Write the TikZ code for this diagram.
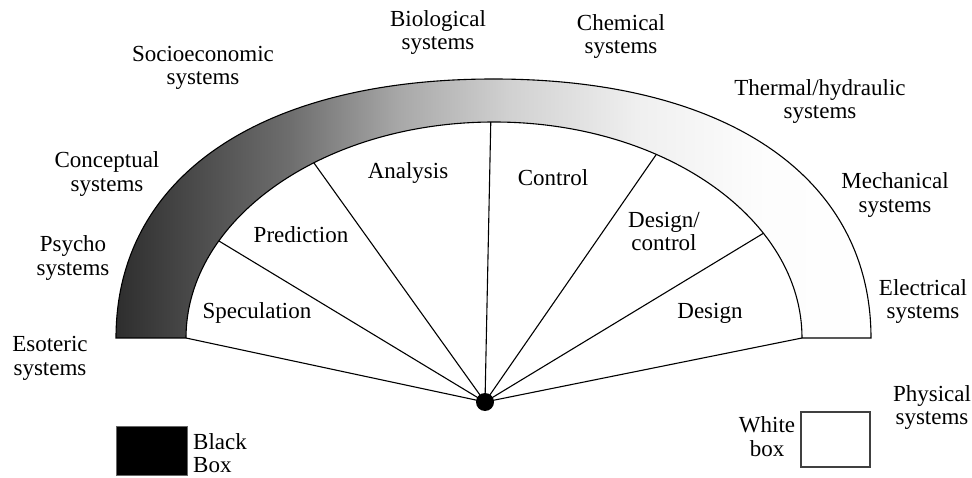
\documentclass[tikz,border=0pt]{standalone}
\usepackage{fontspec}
\setmainfont{Liberation Serif}
\usetikzlibrary{calc}
% grey ramp of the outer band, dark on the left, white on the right
\pgfdeclarehorizontalshading{bandshade}{100bp}{color(0bp)=(black!82); color(25bp)=(black!82); color(36.5bp)=(black!57); color(43.8bp)=(black!34); color(51.1bp)=(black!18); color(59.7bp)=(black!6); color(67.6bp)=(black!1); color(75bp)=(white); color(100bp)=(white)}
\begin{document}
\begin{tikzpicture}[x=1pt,y=1pt,
  lbl/.style={font=\fontsize{23}{23.7}\selectfont, align=center, inner sep=0pt},
  outline/.style={line width=1.1pt, black},
  spoke/.style={line width=1.1pt, black}]
\useasboundingbox (0,0) rectangle (972,477);

% centre of the inner arc
\coordinate (c) at (494,139);

% shaded outer band
\shade[draw, outline, shading=bandshade]
  (116,139) .. controls (116,299.6) and (259.5,398) .. (493.5,398)
  .. controls (727.5,398) and (871,299.6) .. (871,139)
  -- (802,139) arc[start angle=0, end angle=180, x radius=308, y radius=216] -- cycle;

% points on the inner arc where the spokes end
\coordinate (p0) at ($(c)+(180:308 and 216)$);
\coordinate (p1) at ($(c)+(153.3:308 and 216)$);
\coordinate (p2) at ($(c)+(125.8:308 and 216)$);
\coordinate (p3) at ($(c)+(90.6:308 and 216)$);
\coordinate (p4) at ($(c)+(58.2:308 and 216)$);
\coordinate (p5) at ($(c)+(29:308 and 216)$);
\coordinate (p6) at ($(c)+(0:308 and 216)$);

% hub and spokes
\node[circle, fill=black, inner sep=0pt, minimum size=18] (hub) at (485,75) {};
\foreach \p in {p0,p1,p2,p3,p4,p5,p6}
  \draw[spoke] (hub.center) -- (\p);

% sector labels
\node[lbl] (spec) at (257,164) {Speculation};
\node[lbl] (pred) at (301,242) {Prediction};
\node[lbl] (anal) at (408,304) {Analysis};
\node[lbl] (ctrl) at (553,299) {Control};
\node[lbl] (dctl) at (664,245.5) {Design/\\control};
\node[lbl] (dsgn) at (710,164) {Design};

% system labels around the band
\node[lbl] (bio)  at (438,444.5) {Biological\\systems};
\node[lbl] (chem) at (621,440.5) {Chemical\\systems};
\node[lbl] (soc)  at (203,409) {Socioeconomic\\systems};
\node[lbl] (ther) at (820,375.5) {Thermal/hydraulic\\systems};
\node[lbl] (conc) at (107,303) {Conceptual\\systems};
\node[lbl] (mech) at (895,282) {Mechanical\\systems};
\node[lbl] (psy)  at (73,219) {Psycho\\systems};
\node[lbl] (elec) at (923,175.5) {Electrical\\systems};
\node[lbl] (eso)  at (50,118.5) {Esoteric\\systems};
\node[lbl] (phys) at (932,69.5) {Physical\\systems};

% legend boxes
\node[draw=black!60, fill=black, line width=0.8pt, minimum width=71, minimum height=49, inner sep=0pt] (bbox) at (151.5,26.5) {};
\node[lbl, align=left, anchor=west] (btxt) at (193,24) {Black\\Box};
\node[draw=black!75, fill=white, line width=1.1pt, minimum width=69, minimum height=55, inner sep=0pt] (wbox) at (835.5,37.5) {};
\node[lbl] (wtxt) at (767,40.5) {White\\box};
\end{tikzpicture}
\end{document}
